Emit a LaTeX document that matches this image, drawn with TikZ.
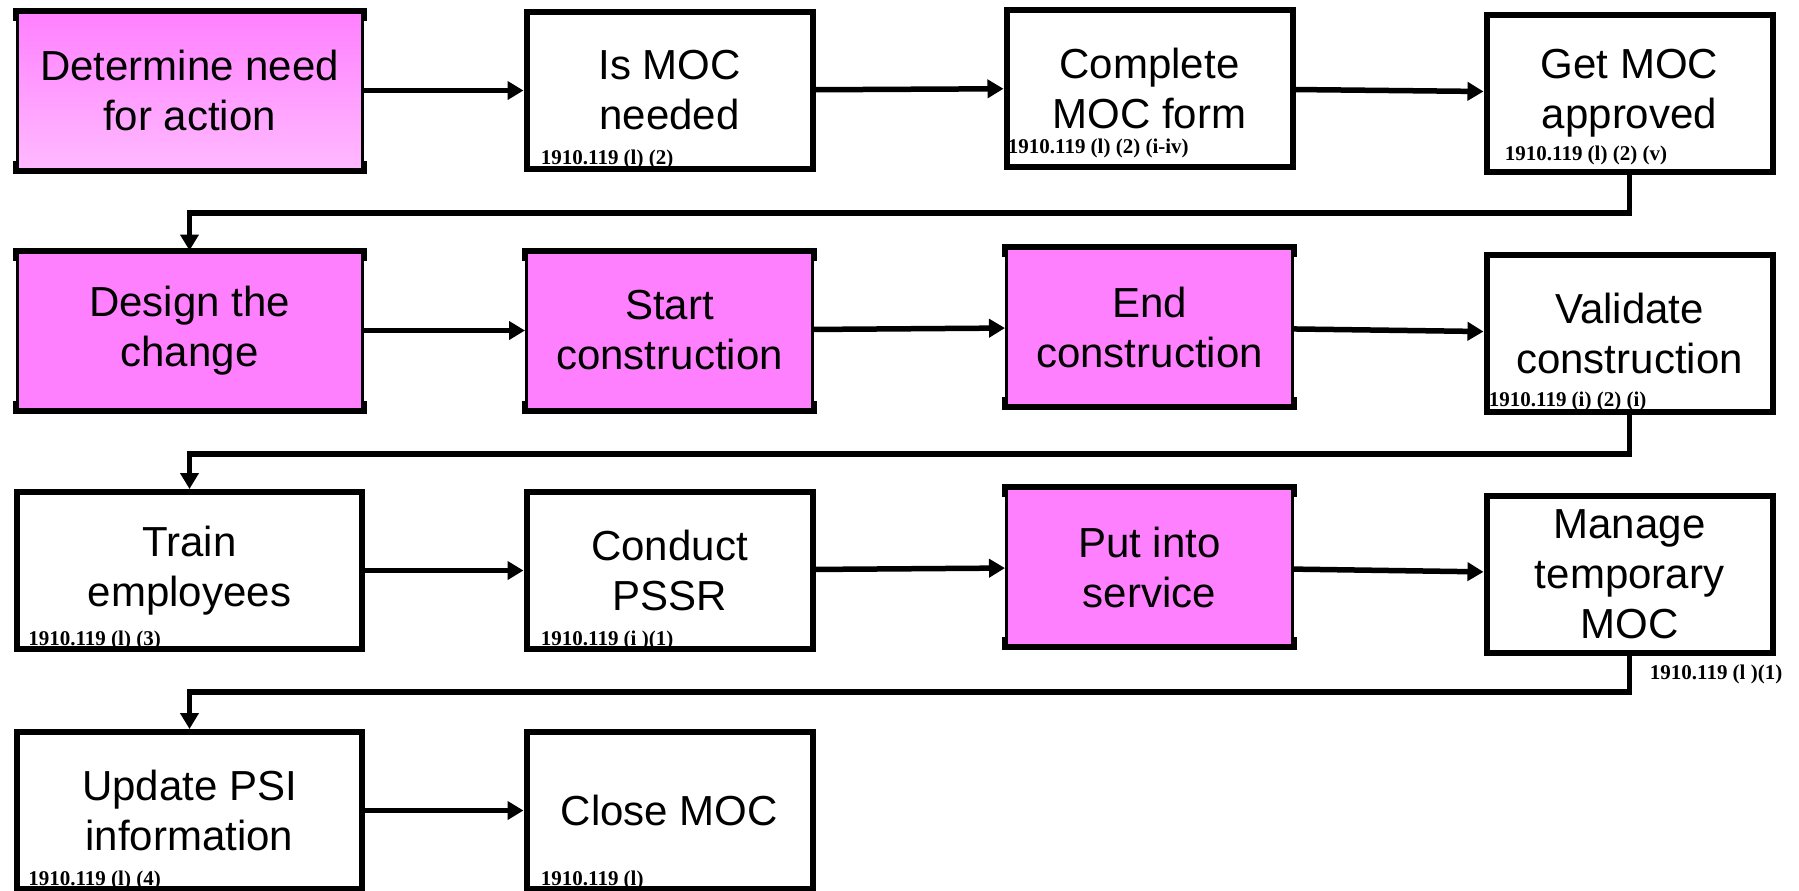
\documentclass[tikz,border=0pt]{standalone}
\usepackage{fontspec}
\setmainfont{Liberation Sans}
\newfontfamily\reffont{Liberation Serif}
\usetikzlibrary{positioning,arrows.meta}

\definecolor{mocpink}{RGB}{255,128,255}
\definecolor{mocpinkmid}{RGB}{255,145,255}
\definecolor{mocpinklight}{RGB}{255,185,255}

\begin{document}
\begin{tikzpicture}[
    on grid,
    node distance=120pt and 240pt,
    box/.style={rectangle, draw, line width=3pt, minimum width=143pt, minimum height=78.5pt, inner sep=0pt, align=center, font=\fontsize{21}{25}\selectfont},
    wide/.style={minimum width=172.5pt},
    pink/.style={box, fill=mocpink, line width=1.5pt},
    ref/.style={anchor=base west, inner sep=0pt, font=\reffont\bfseries\fontsize{10.5}{12}\selectfont},
    arrow/.style={-{Triangle[length=8pt,width=9pt]}, line width=2.75pt},
    edge/.style={line width=3pt}
]
    \useasboundingbox (0,0) rectangle (899.5pt,-445pt);

    % first row
    \node[box, wide, line width=1.5pt, top color=mocpink, middle color=mocpinkmid, bottom color=mocpinklight] (need) at (94.75pt,-45.25pt) {Determine need\\for action};
    \node[box, right=of need] (ismoc) {Is MOC\\needed};
    \node[box, right=of ismoc, yshift=1.25pt] (form) {Complete\\MOC form};
    \node[box, right=of form, yshift=-2.5pt] (approve) {Get MOC\\approved};

    % second row
    \node[pink, wide, below=of need] (design) {Design the\\change};
    \node[pink, right=of design] (start) {Start\\construction};
    \node[pink, right=of start, yshift=1.75pt] (endc) {End\\construction};
    \node[box, right=of endc, yshift=-3.25pt] (validate) {Validate\\construction};

    % third row
    \node[box, wide, below=of design] (train) {Train\\employees};
    \node[box, right=of train] (pssr) {Conduct\\PSSR};
    \node[pink, right=of pssr, yshift=1.75pt] (service) {Put into\\service};
    \node[box, right=of service, yshift=-3.5pt] (tempmoc) {Manage\\temporary\\MOC};

    % last row
    \node[box, wide, below=of train] (psi) {Update PSI\\information};
    \node[box, right=of psi] (close) {Close MOC};

    % heavy top and bottom edges of the coloured boxes
    \foreach \n in {need,design,start,endc,service}{
        \draw[edge] ([yshift=-5pt]\n.north west) -- (\n.north west) -- (\n.north east) -- ([yshift=-5pt]\n.north east);
        \draw[edge] ([yshift=5pt]\n.south west) -- (\n.south west) -- (\n.south east) -- ([yshift=5pt]\n.south east);
    }

    % references
    \node[ref] (ismocref) at ([xshift=8.5pt,yshift=4pt]ismoc.south west) {1910.119 (l) (2)};
    \node[ref] (formref) at ([xshift=2pt,yshift=8pt]form.south west) {1910.119 (l) (2) (i-iv)};
    \node[ref] (approveref) at ([xshift=10.5pt,yshift=7pt]approve.south west) {1910.119 (l) (2) (v)};
    \node[ref] (validateref) at ([xshift=2.5pt,yshift=4.5pt]validate.south west) {1910.119 (i) (2) (i)};
    \node[ref] (trainref) at ([xshift=7pt,yshift=3.5pt]train.south west) {1910.119 (l) (3)};
    \node[ref] (pssrref) at ([xshift=8.5pt,yshift=3.5pt]pssr.south west) {1910.119 (i )(1)};
    \node[ref] (tempmocref) at ([xshift=10pt,yshift=-12pt]tempmoc.south) {1910.119 (l )(1)};
    \node[ref] (psiref) at ([xshift=7pt,yshift=3.5pt]psi.south west) {1910.119 (l) (4)};
    \node[ref] (closeref) at ([xshift=8.5pt,yshift=3.5pt]close.south west) {1910.119 (l)};

    % flow
    \draw[arrow] (need) -- (ismoc);
    \draw[arrow] (ismoc) -- (form);
    \draw[arrow] (form) -- (approve);
    \draw[arrow] (approve.south) -- ++(0,-19.25pt) -| (design.north);
    \draw[arrow] (design) -- (start);
    \draw[arrow] (start) -- (endc);
    \draw[arrow] (endc) -- (validate);
    \draw[arrow] (validate.south) -- ++(0,-19.5pt) -| (train.north);
    \draw[arrow] (train) -- (pssr);
    \draw[arrow] (pssr) -- (service);
    \draw[arrow] (service) -- (tempmoc);
    \draw[arrow] (tempmoc.south) -- ++(0,-18.25pt) -| (psi.north);
    \draw[arrow] (psi) -- (close);
\end{tikzpicture}
\end{document}
